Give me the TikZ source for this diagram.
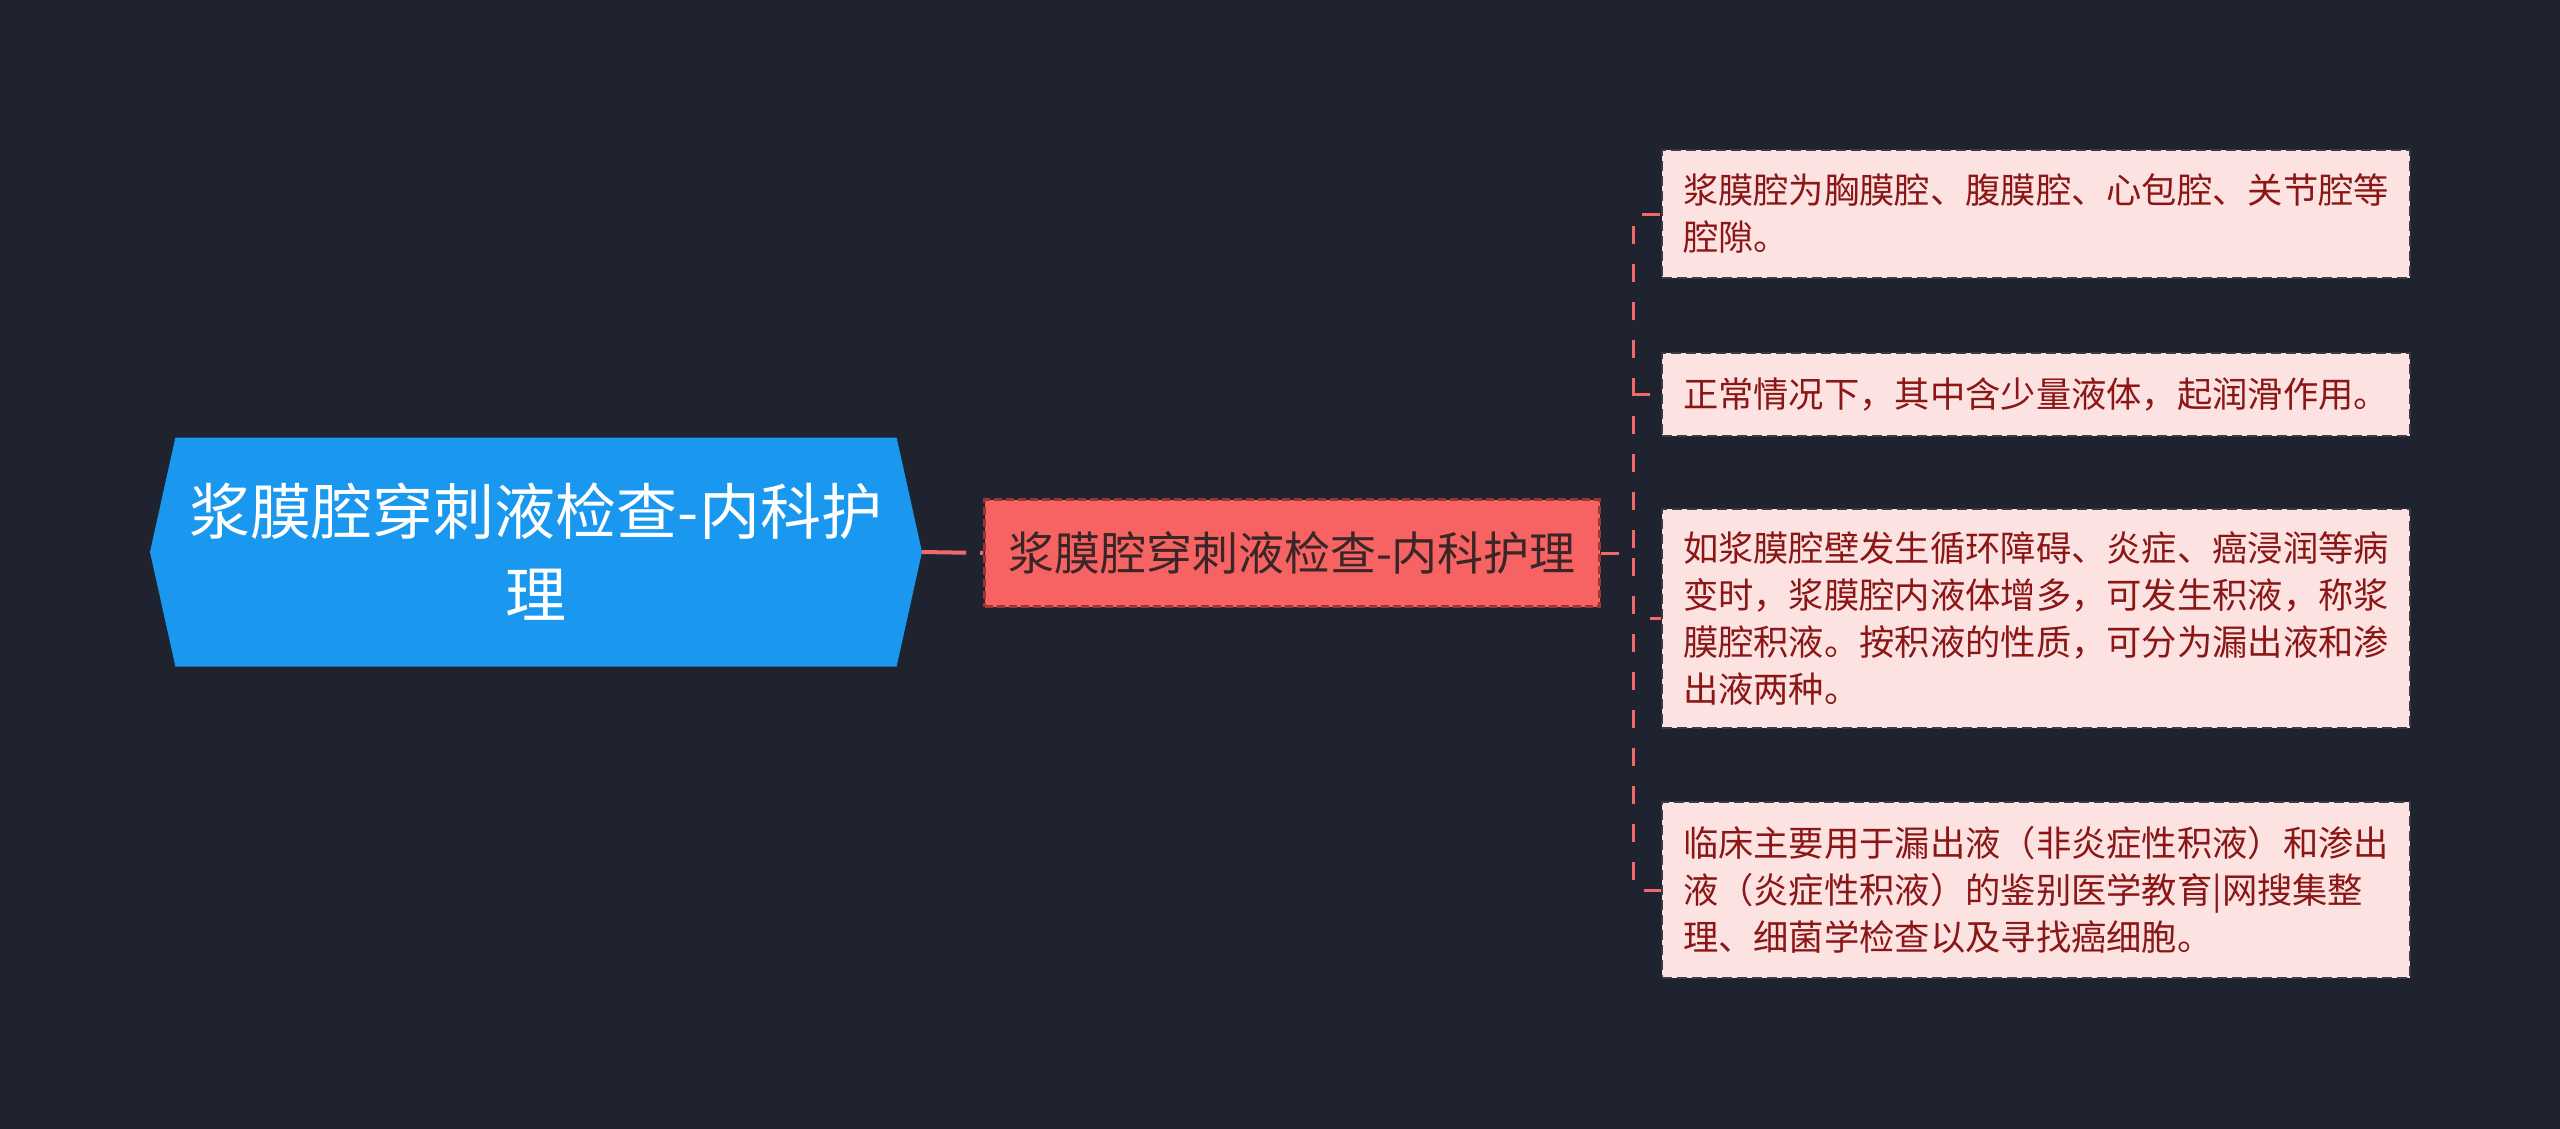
\documentclass[tikz,border=0pt]{standalone}
\usepackage{fontspec}
\newfontfamily\cjk{Noto Sans CJK SC}
\usetikzlibrary{shapes.symbols, positioning}
\definecolor{bgnavy}{HTML}{1F232F}
\definecolor{rootblue}{HTML}{1A98F0}
\definecolor{midred}{HTML}{F76262}
\definecolor{midline}{HTML}{9E3434}
\definecolor{midtext}{HTML}{3A2626}
\definecolor{leafpink}{HTML}{FDE2E2}
\definecolor{leafline}{HTML}{3A3A44}
\definecolor{leafred}{HTML}{8B1616}
\definecolor{linkred}{HTML}{F06A6A}

\begin{document}
\begin{tikzpicture}[x=1pt, y=-1pt,
    rootbox/.style={signal, signal to=west and east, signal pointer angle=155, fill=rootblue, text=white, font=\cjk\fontsize{61}{83}\selectfont, align=center, minimum width=772pt, minimum height=229pt, inner sep=0pt},
    midbox/.style={rectangle, draw=midline, line width=2.5pt, dash pattern=on 8pt off 4pt, fill=midred, text=midtext, font=\cjk\fontsize{46}{60}\selectfont, minimum width=615pt, minimum height=107pt, inner sep=0pt},
    leafbox/.style={rectangle, draw=leafline, line width=2pt, dash pattern=on 10pt off 5pt, fill=leafpink, text=leafred, font=\cjk\fontsize{35.3}{47}\selectfont, align=left, text width=706pt, inner xsep=21pt, inner ysep=0pt},
    link/.style={draw=linkred, line width=3pt, dash pattern=on 18pt off 20pt}
]
    \fill[bgnavy] (0,0) rectangle (2560,1129);
    \useasboundingbox (0,0) rectangle (2560,1129);

    \node[rootbox] (root) at (536,552) {浆膜腔穿刺液检查-内科护\\理};
    \node[midbox] (mid) at (1292,553) {浆膜腔穿刺液检查-内科护理};

    \node[leafbox, minimum height=128pt] (cavity) at (2036,214) {浆膜腔为胸膜腔、腹膜腔、心包腔、关节腔等\\腔隙。};
    \node[leafbox, minimum height=83pt] (normal) at (2036,394) {正常情况下，其中含少量液体，起润滑作用。};
    \node[leafbox, minimum height=219pt] (effusion) at (2036,618) {如浆膜腔壁发生循环障碍、炎症、癌浸润等病\\变时，浆膜腔内液体增多，可发生积液，称浆\\膜腔积液。按积液的性质，可分为漏出液和渗\\出液两种。};
    \node[leafbox, minimum height=176pt] (clinic) at (2036,890) {临床主要用于漏出液（非炎症性积液）和渗出\\液（炎症性积液）的鉴别医学教育|网搜集整\\理、细菌学检查以及寻找癌细胞。};

    \draw[link, line width=4pt, dash pattern=on 44pt off 14pt] (root.east) -- (mid.west);
    \draw[link] (mid.east) -- ++(33,0) |- (cavity.west);
    \draw[link] (mid.east) -- ++(33,0) |- (normal.west);
    \draw[link] (mid.east) -- ++(33,0) |- (effusion.west);
    \draw[link] (mid.east) -- ++(33,0) |- (clinic.west);
\end{tikzpicture}
\end{document}
